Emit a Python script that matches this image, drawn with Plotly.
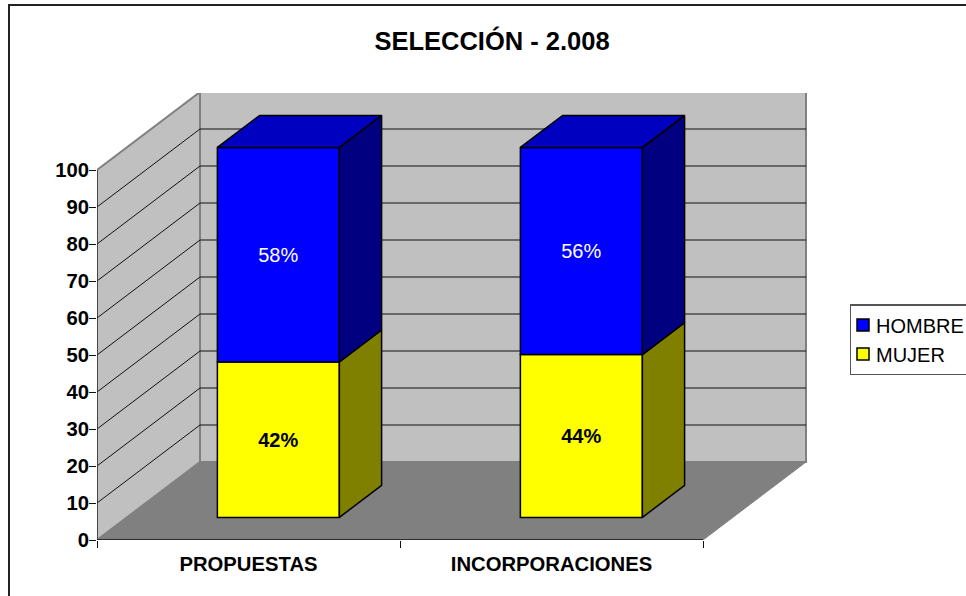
import plotly.graph_objects as go

categories = ["PROPUESTAS", "INCORPORACIONES"]
mujer = [42, 44]
hombre = [58, 56]
y_ticks = [0, 10, 20, 30, 40, 50, 60, 70, 80, 90, 100]
title_text = "SELECCIÓN - 2.008"

W, H = 966, 596
L, R, T, B = 97, 807, 93, 540          # plot box in pixels
YMAX = 100 * (B - T) / 370             # 370 px per 100 units
CAT_PX = 303
DX = 103 / CAT_PX                      # oblique depth, x units
DY = 78 / 3.7                          # oblique depth, value units
XMIN, XMAX = -0.5, -0.5 + (R - L) / CAT_PX
D0, D1 = 0.29, 0.70                    # bar depth slice
BAR_W = 122 / CAT_PX
FONT = "Liberation Sans"
px = lambda v: (v - L) / (R - L)
py = lambda v: (B - v) / (B - T)


def proj(x, v, d):
    return x + d * DX, v + d * DY


def poly(pts, fill, line="black", lw=1.5, axes=("x", "y")):
    xs, ys = zip(*(pts + pts[:1]))
    return go.Scatter(x=xs, y=ys, mode="lines", fill="toself", fillcolor=fill,
                      line=dict(color=line, width=lw), hoverinfo="skip",
                      showlegend=False, cliponaxis=False, xaxis=axes[0], yaxis=axes[1])


def segs(pts, color, lw=1):
    xs, ys = zip(*pts)
    return go.Scatter(x=xs, y=ys, mode="lines", line=dict(color=color, width=lw),
                      hoverinfo="skip", showlegend=False, cliponaxis=False)


x0, x1 = -0.5, 1.5
top = y_ticks[-1]
fig = go.Figure()
# walls and floor
fig.add_trace(poly([proj(x0, 0, 0), proj(x1, 0, 0), proj(x1, 0, 1), proj(x0, 0, 1)], "#808080", "#808080", 1))
fig.add_trace(poly([proj(x0, 0, 0), proj(x0, 0, 1), proj(x0, top, 1), proj(x0, top, 0)], "#C0C0C0", "#808080", 2))
fig.add_trace(poly([proj(x0, 0, 1), proj(x1, 0, 1), proj(x1, top, 1), proj(x0, top, 1)], "#C0C0C0", "#808080", 2))
for v in y_ticks[1:-1]:
    fig.add_trace(segs([proj(x0, v, 0), proj(x0, v, 1), proj(x1, v, 1)], "#111111", 1))
# axis lines
fig.add_trace(segs([proj(x0, 0, 0), proj(x0, top, 0)], "#333333", 1.5))
fig.add_trace(segs([proj(x0, 0, 0), proj(x1, 0, 0)], "#111111", 1.5))

# bars, front faces on an overlaying axis pair so that they sit above the walls
bx = [i + D0 * DX for i in range(len(categories))]
b0 = D0 * DY
fig.add_trace(go.Bar(x=bx, y=mujer, base=[b0] * 2, width=BAR_W, name="MUJER", xaxis="x2", yaxis="y2",
                     marker=dict(color="#FFFF00", line=dict(color="black", width=1.5)),
                     text=[f"{v}%" for v in mujer], textposition="inside", insidetextanchor="middle",
                     textangle=0, insidetextfont=dict(family=FONT, size=20, color="black", weight="bold"),
                     cliponaxis=False))
fig.add_trace(go.Bar(x=bx, y=hombre, base=[b0 + m for m in mujer], width=BAR_W, name="HOMBRE", xaxis="x2", yaxis="y2",
                     marker=dict(color="#0000FF", line=dict(color="black", width=1.5)),
                     text=[f"{v}%" for v in hombre], textposition="inside", insidetextanchor="middle",
                     textangle=0, insidetextfont=dict(family=FONT, size=20, color="white"),
                     cliponaxis=False))
# side and top faces
ax2 = ("x2", "y2")
for i in range(len(categories)):
    xr = i + BAR_W / 2
    xl = i - BAR_W / 2
    m, t = mujer[i], mujer[i] + hombre[i]
    fig.add_trace(poly([proj(xr, 0, D0), proj(xr, 0, D1), proj(xr, m, D1), proj(xr, m, D0)], "#808000", axes=ax2))
    fig.add_trace(poly([proj(xr, m, D0), proj(xr, m, D1), proj(xr, t, D1), proj(xr, t, D0)], "#000080", axes=ax2))
    fig.add_trace(poly([proj(xl, t, D0), proj(xr, t, D0), proj(xr, t, D1), proj(xl, t, D1)], "#0000C0", axes=ax2))

tick_font = dict(family=FONT, size=20.25, color="black", weight="bold")
fig.update_layout(
    width=W, height=H, margin=dict(l=L, r=W - R, t=T, b=H - B, autoexpand=False),
    paper_bgcolor="white", plot_bgcolor="rgba(0,0,0,0)", barmode="overlay",
    title=dict(text=title_text, x=492 / W, xanchor="center", y=1 - 41 / H, yanchor="middle",
               font=dict(family=FONT, size=25.5, color="black", weight="bold")),
    xaxis=dict(range=[XMIN, XMAX], tickmode="array", tickvals=list(range(len(categories))), ticktext=categories,
               ticks="outside", ticklen=7, tickcolor="rgba(0,0,0,0)", showgrid=False, zeroline=False, showline=False,
               tickfont=tick_font, ticklabelstandoff=-1,
               minor=dict(tickmode="array", tickvals=[-0.5, 0.5, 1.5], ticks="outside", ticklen=7, tickcolor="#111111", tickwidth=1, showgrid=False)),
    yaxis=dict(range=[0, YMAX], tickmode="array", tickvals=y_ticks, ticks="outside", ticklen=7, tickcolor="#111111",
               showgrid=False, zeroline=False, showline=False, tickfont=tick_font, ticklabelstandoff=-4),
    xaxis2=dict(overlaying="x", matches="x", visible=False),
    yaxis2=dict(overlaying="y", matches="y", visible=False),
    legend=dict(x=px(849.5), xanchor="left", y=py(304), yanchor="top", traceorder="reversed",
                bgcolor="white", bordercolor="#555555", borderwidth=1.5,
                font=dict(family=FONT, size=20, color="black"), indentation=-15, itemclick=False, itemdoubleclick=False),
    shapes=[dict(type="rect", xref="paper", yref="paper", x0=px(9), x1=px(W + 20), y0=py(5), y1=py(H + 20),
                 line=dict(color="#222222", width=2), fillcolor="rgba(0,0,0,0)", layer="below")],
)
post = """
document.body.style.margin = '0';
document.querySelectorAll('.legend .legendsymbols').forEach(function (g) {
  g.setAttribute('transform', 'translate(7,0)');
});
"""
fig.write_html("out.html", post_script=post, config={"displayModeBar": False})
